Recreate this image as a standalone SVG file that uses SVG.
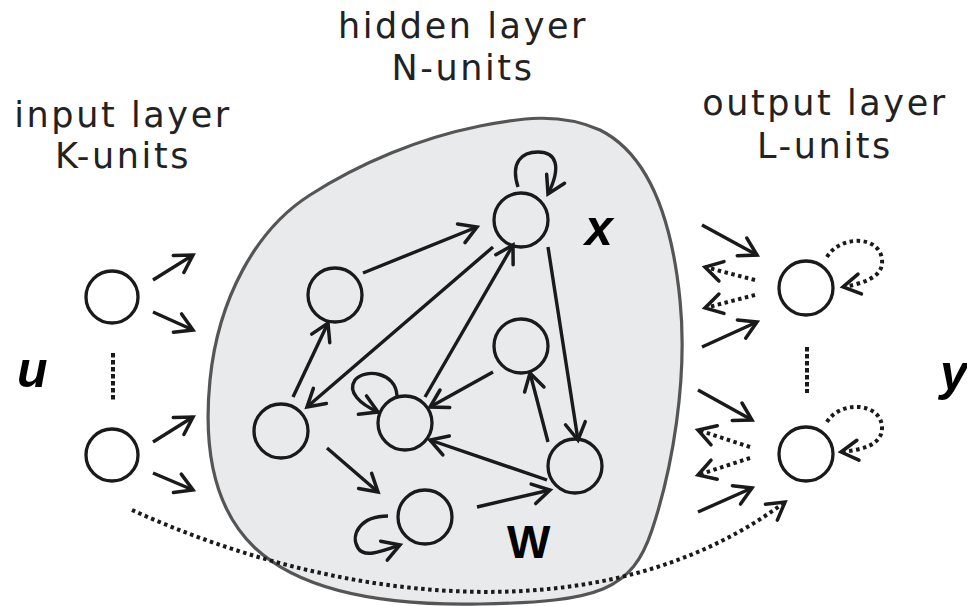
<svg xmlns="http://www.w3.org/2000/svg" width="967" height="606" viewBox="0 0 967 606">
<defs>
<marker id="ah" markerUnits="userSpaceOnUse" markerWidth="40" markerHeight="40" viewBox="-20 -20 40 40" refX="0" refY="0" orient="auto" overflow="visible">
<path d="M-17,-10 L0,0 L-17,10" fill="none" stroke="#1a1a1a" stroke-width="3.5" stroke-linecap="round"/>
</marker>
<style>
.blob{fill:#e9eaec;stroke:#555;stroke-width:3.2}
.node circle{fill:none;stroke:#1a1a1a;stroke-width:3.3}
.e{fill:none;stroke:#1a1a1a;stroke-width:3.4;marker-end:url(#ah)}
.d{stroke-width:4;stroke-dasharray:3.5 3.5}
.dash{fill:none;stroke:#1a1a1a;stroke-width:4;stroke-dasharray:4.5 2.5}
.t{font-family:"DejaVu Sans",Verdana,sans-serif;font-size:35px;letter-spacing:2.6px;fill:#222;text-anchor:middle}
.v{font-family:"Liberation Sans",Arial,sans-serif;font-weight:bold;font-style:italic;font-size:50px;fill:#000}
.w{font-family:"Liberation Sans",Arial,sans-serif;font-weight:bold;font-size:46px;fill:#000}
</style>
</defs>
<path id="reservoir" class="blob" d="M480,126 C520,118 560,112 600,130 C650,155 672,220 680,300 C688,380 672,470 652,530 C632,590 600,602 480,604 C380,606 300,590 255,548 C215,510 203,450 210,380 C218,300 255,230 310,195 C360,163 420,138 480,126 Z"/>
<g id="titles">
<text class="t" x="123" y="127">input layer</text>
<text class="t" x="123" y="168">K-units</text>
<text class="t" x="463" y="38">hidden layer</text>
<text class="t" x="463" y="80">N-units</text>
<text class="t" x="825" y="115">output layer</text>
<text class="t" x="825" y="158">L-units</text>
</g>
<g id="labels">
<text class="v" x="17" y="387">u</text>
<text class="v" x="585" y="245">x</text>
<text class="v" x="940" y="390">y</text>
<text class="w" x="507" y="558">W</text>
</g>
<g id="in1" class="node"><circle cx="112" cy="297" r="26"/></g>
<g id="in2" class="node"><circle cx="112" cy="455" r="26"/></g>
<g id="hX" class="node"><circle cx="521" cy="220" r="27"/></g>
<g id="hA" class="node"><circle cx="335" cy="295" r="27"/></g>
<g id="hB" class="node"><circle cx="521" cy="346" r="27"/></g>
<g id="hC" class="node"><circle cx="281" cy="431" r="27"/></g>
<g id="hD" class="node"><circle cx="405" cy="423" r="27"/></g>
<g id="hE" class="node"><circle cx="575" cy="466" r="27"/></g>
<g id="hF" class="node"><circle cx="425" cy="517" r="27"/></g>
<g id="out1" class="node"><circle cx="806" cy="288" r="27"/></g>
<g id="out2" class="node"><circle cx="806" cy="454" r="27"/></g>
<g id="connectors">
<path class="dash" d="M113,353 L113,400"/>
<path class="dash" d="M807,347 L807,393"/>
<path class="e" d="M153,280 L193,255"/>
<path class="e" d="M153,312 L193,330"/>
<path class="e" d="M153,442 L193,417"/>
<path class="e" d="M153,473 L193,490"/>
<path class="e" d="M363,273 L477,227"/>
<path class="e" d="M293,397 L328,323"/>
<path class="e" d="M493,247 L307,407"/>
<path class="e" d="M425,397 L513,245"/>
<path class="e" d="M493,372 L430,407"/>
<path class="e" d="M548,247 L578,440"/>
<path class="e" d="M548,442 L530,373"/>
<path class="e" d="M547,480 L430,440"/>
<path class="e" d="M327,448 L378,492"/>
<path class="e" d="M477,507 L550,490"/>
<path class="e" d="M518,187 C510,162 522,152 538,152 C556,152 562,166 548,194"/>
<path class="e" d="M397,396 C396,372 365,368 355,380 C347,392 360,404 378,412"/>
<path class="e" d="M388,516 C360,516 350,535 358,548 C364,558 380,552 400,545"/>
<path class="e" d="M702,225 L757,255"/>
<path class="e d" d="M755,280 L705,267"/>
<path class="e d" d="M755,295 L705,308"/>
<path class="e" d="M702,347 L757,322"/>
<path class="e" d="M698,390 L752,420"/>
<path class="e d" d="M750,447 L698,430"/>
<path class="e d" d="M750,458 L698,475"/>
<path class="e" d="M698,512 L752,488"/>
<path class="e d" d="M827,257 C840,235 880,235 882,260 C884,278 860,284 843,287"/>
<path class="e d" d="M827,422 C840,400 882,402 882,428 C882,446 860,450 841,452"/>
<path class="e d" d="M132,510 C330,600 600,640 785,502"/>
</g>
</svg>
